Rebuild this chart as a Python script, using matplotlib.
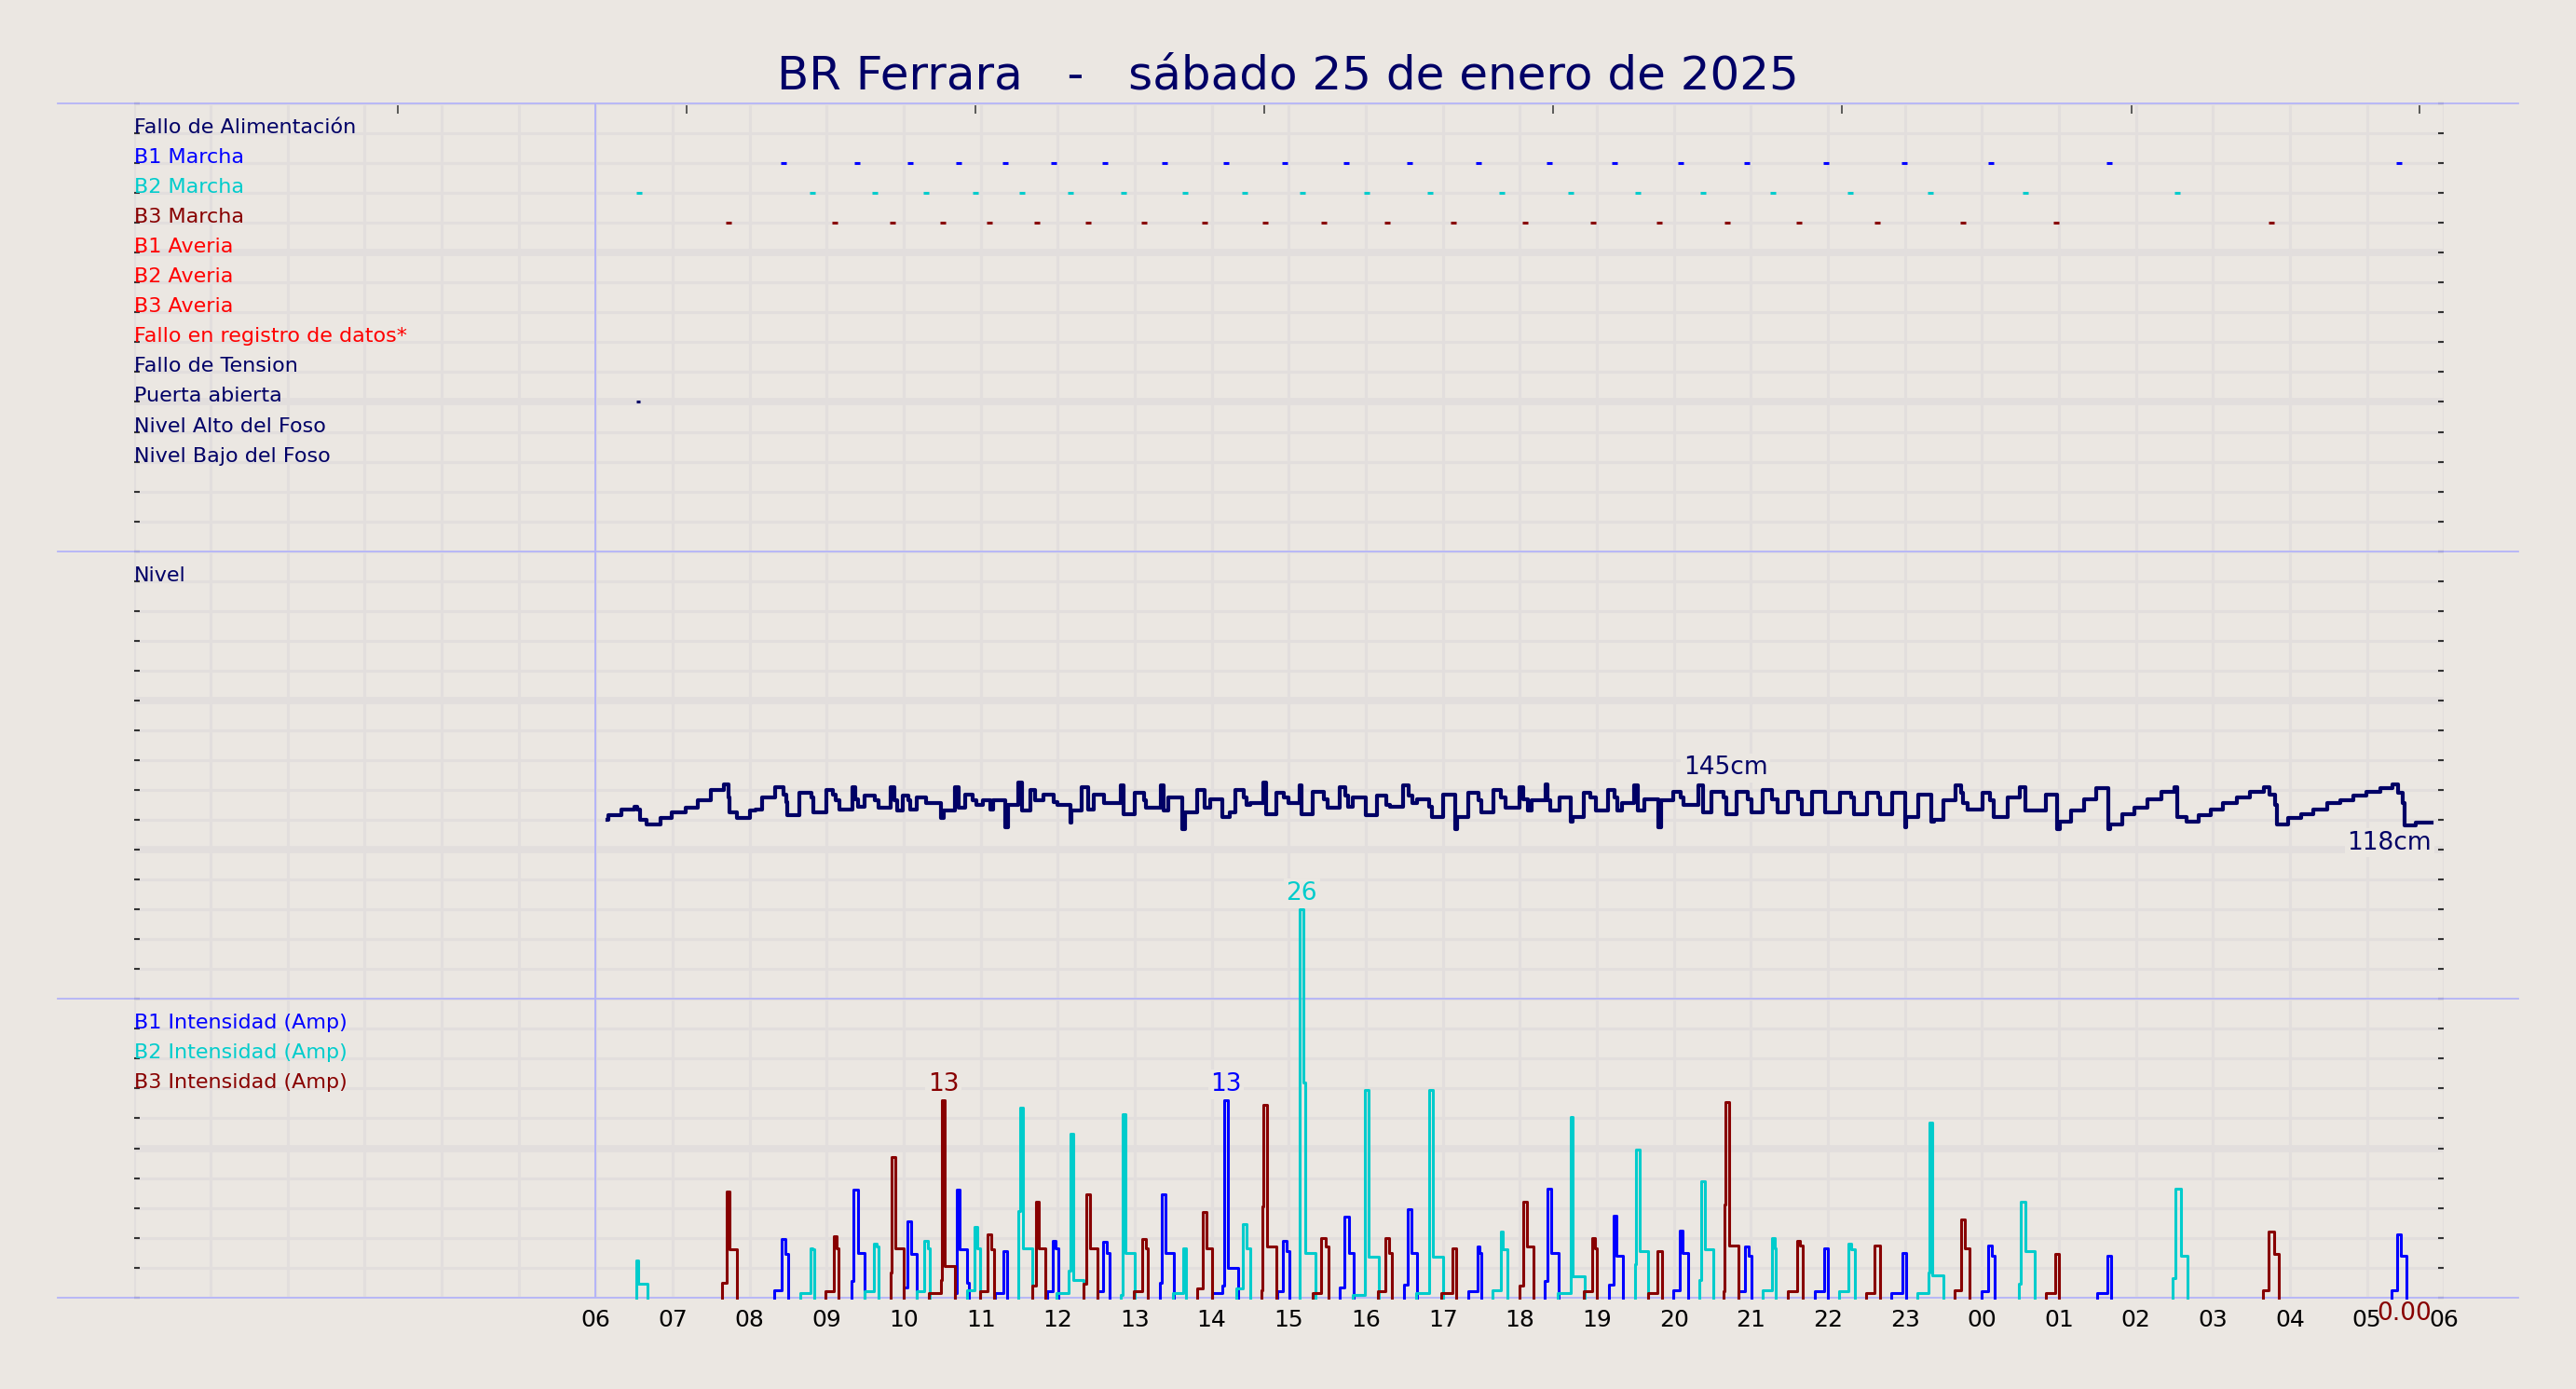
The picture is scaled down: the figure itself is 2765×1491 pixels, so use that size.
import matplotlib
matplotlib.use("Agg")
import matplotlib.pyplot as plt
from matplotlib.ticker import FixedLocator

# colores
BG = "#ebe7e2"
GRID = "#e2dedd"
SEP = "#b4b4f8"
NAVY = "#000066"
C_B1 = "#0000ff"
C_B2 = "#00cccc"
C_B3 = "#880000"
RED = "#ff0000"

titulo = "BR Ferrara   -   sábado 25 de enero de 2025"

# eje x en horas desde las 00:00 del dia
horas = list(range(31))
horas_txt = ["", "", "", "", "", "", "06", "07", "08", "09", "10", "11", "12",
             "13", "14", "15", "16", "17", "18", "19", "20", "21", "22", "23",
             "00", "01", "02", "03", "04", "05", "06"]
marcas_sup = [3.43, 7.18, 10.93, 14.68, 18.43, 22.18, 25.94, 29.68]

# filas de eventos (de arriba a abajo)
filas = ["Fallo de Alimentación", "B1 Marcha", "B2 Marcha", "B3 Marcha",
         "B1 Averia", "B2 Averia", "B3 Averia", "Fallo en registro de datos*",
         "Fallo de Tension", "Puerta abierta", "Nivel Alto del Foso",
         "Nivel Bajo del Foso"]
filas_color = [NAVY, C_B1, C_B2, C_B3, RED, RED, RED, RED,
               NAVY, NAVY, NAVY, NAVY]

marcha_b1 = [8.44, 9.39, 10.08, 10.71, 11.32, 11.95, 12.61, 13.39, 14.18, 14.95,
             15.75, 16.57, 17.46, 18.38, 19.23, 20.09, 20.95, 21.98, 22.99,
             24.12, 25.66, 29.42]
marcha_b2 = [6.56, 8.81, 9.63, 10.29, 10.93, 11.53, 12.17, 12.86, 13.65, 14.43,
             15.18, 16.01, 16.84, 17.77, 18.66, 19.53, 20.38, 21.29, 22.29,
             23.33, 24.57, 26.54]
marcha_b3 = [7.72, 9.11, 9.86, 10.51, 11.11, 11.73, 12.40, 13.12, 13.91, 14.69,
             15.46, 16.28, 17.14, 18.07, 18.95, 19.81, 20.70, 21.62, 22.64,
             23.75, 24.97, 27.76]
puerta = [6.55]

# nivel del foso (cm)
nivel_t = [6.15, 6.16, 6.33, 6.50, 6.54, 6.57, 6.66, 6.84, 6.99, 7.17, 7.33, 7.50,
           7.66, 7.72, 7.74, 7.83, 8.00, 8.07, 8.16, 8.33, 8.44, 8.47, 8.49, 8.65,
           8.80, 8.83, 8.99, 9.08, 9.12, 9.16, 9.33, 9.37, 9.41, 9.49, 9.63, 9.67,
           9.83, 9.88, 9.91, 9.99, 10.06, 10.09, 10.17, 10.29, 10.48, 10.52, 10.66,
           10.71, 10.80, 10.90, 10.94, 11.03, 11.13, 11.16, 11.32, 11.35, 11.49,
           11.53, 11.65, 11.71, 11.81, 11.95, 11.99, 12.16, 12.18, 12.31, 12.39,
           12.47, 12.60, 12.82, 12.85, 13.00, 13.12, 13.15, 13.34, 13.38, 13.44,
           13.62, 13.65, 13.81, 13.91, 13.98, 14.14, 14.23, 14.31, 14.41, 14.45,
           14.50, 14.67, 14.71, 14.84, 14.93, 15.00, 15.14, 15.17, 15.31, 15.45,
           15.50, 15.66, 15.73, 15.77, 15.83, 16.00, 16.15, 16.27, 16.32, 16.48,
           16.56, 16.61, 16.66, 16.82, 16.86, 17.00, 17.16, 17.18, 17.33, 17.47,
           17.50, 17.66, 17.75, 17.81, 18.00, 18.05, 18.10, 18.15, 18.33, 18.36,
           18.40, 18.52, 18.66, 18.69, 18.83, 18.91, 18.99, 19.15, 19.23, 19.27,
           19.33, 19.49, 19.53, 19.62, 19.80, 19.83, 19.99, 20.09, 20.12, 20.32,
           20.38, 20.49, 20.64, 20.68, 20.82, 20.96, 21.01, 21.15, 21.28, 21.35,
           21.48, 21.61, 21.66, 21.80, 21.97, 22.16, 22.30, 22.34, 22.51, 22.65,
           22.68, 22.84, 23.00, 23.02, 23.17, 23.35, 23.38, 23.50, 23.66, 23.73,
           23.76, 23.82, 24.01, 24.11, 24.16, 24.33, 24.49, 24.57, 24.83, 24.98,
           25.01, 25.16, 25.33, 25.49, 25.64, 25.67, 25.82, 25.98, 26.15, 26.33,
           26.50, 26.54, 26.66, 26.82, 26.97, 27.13, 27.31, 27.48, 27.66, 27.73,
           27.81, 27.83, 27.98, 28.15, 28.31, 28.48, 28.65, 28.82, 28.99, 29.17,
           29.33, 29.41, 29.46, 29.49, 29.64, 29.84]
nivel_cm = [120, 123, 127, 129, 127, 120, 117, 121, 125, 128, 133, 140,
            144, 135, 125, 121, 126, 127, 135, 142, 137, 132, 123, 138,
            135, 125, 140, 137, 133, 127, 142, 134, 129, 136, 133, 128,
            142, 133, 126, 136, 133, 127, 135, 131, 121, 126, 142,
            128, 137, 133, 130, 133, 127, 133, 115, 130, 145,
            126, 140, 133, 137, 132, 130, 118, 126, 142, 127,
            137, 131, 143, 124, 138, 133, 128, 143, 126, 135,
            114, 125, 140, 128, 134, 122, 125, 140, 135, 130,
            131, 145, 124, 138, 135, 131, 143, 124, 139, 134,
            128, 142, 136, 129, 135, 123, 136, 130, 129, 143,
            136, 131, 134, 129, 122, 137, 114, 122, 138, 133,
            125, 140, 135, 128, 142, 134, 126, 133, 144, 133,
            126, 135, 119, 122, 138, 135, 126, 140, 135, 126,
            131, 143, 126, 134, 115, 133, 139, 135, 130, 143,
            125, 139, 135, 124, 139, 134, 125, 140, 134, 125,
            139, 134, 124, 139, 125, 138, 135, 124, 138, 135,
            124, 138, 115, 122, 137, 119, 120, 133, 143, 138,
            131, 127, 138, 133, 122, 135, 142, 126, 137, 114,
            119, 126, 134, 141, 114, 117, 124, 128, 134, 139,
            142, 122, 119, 123, 127, 131, 135, 139, 142, 137,
            130, 117, 121, 124, 127, 131, 133, 136, 139, 141,
            144, 138, 131, 116, 118, 118]

# intensidades (Amp): cada arranque es una lista de (hora, amperios)
b1_arranques = [
    [(8.321, 0.5), (8.410, 3.9), (8.463, 2.9), (8.499, 0)],
    [(9.323, 1.1), (9.349, 7.2), (9.407, 3.0), (9.496, 0)],
    [(10.005, 0.7), (10.047, 5.1), (10.100, 2.9), (10.168, 0)],
    [(10.661, 0.3), (10.693, 7.2), (10.729, 3.2), (10.824, 1.0), (10.845, 0)],
    [(11.186, 0.3), (11.296, 3.1), (11.343, 0)],
    [(11.857, 0.4), (11.936, 3.8), (11.973, 3.3), (12.004, 0)],
    [(12.513, 0.4), (12.592, 3.7), (12.634, 3.0), (12.671, 0)],
    [(13.326, 1.0), (13.353, 6.9), (13.405, 3.0), (13.510, 0)],
    [(14.009, 0.3), (14.140, 0.8), (14.166, 13.2), (14.205, 2.0), (14.345, 0)],
    [(14.848, 0.4), (14.922, 3.8), (14.974, 3.1), (15.006, 0)],
    [(15.662, 0.7), (15.725, 5.4), (15.777, 3.0), (15.840, 0)],
    [(16.496, 0.85), (16.548, 5.9), (16.590, 3.0), (16.669, 0)],
    [(17.330, 0.4), (17.446, 3.4), (17.482, 3.0), (17.498, 0)],
    [(18.322, 1.1), (18.359, 7.3), (18.411, 3.0), (18.505, 0)],
    [(19.161, 0.85), (19.224, 5.5), (19.256, 2.8), (19.345, 0)],
    [(19.990, 0.5), (20.080, 4.5), (20.116, 3.0), (20.185, 0)],
    [(20.840, 0.4), (20.930, 3.4), (20.972, 2.8), (21.014, 0)],
    [(21.827, 0.4), (21.953, 3.3), (22.005, 0)],
    [(22.819, 0.3), (22.965, 3.0), (23.013, 0)],
    [(23.999, 0.4), (24.088, 3.5), (24.130, 2.8), (24.172, 0)],
    [(25.495, 0.3), (25.626, 2.8), (25.678, 0)],
    [(29.325, 0.5), (29.388, 4.2), (29.446, 2.8), (29.519, 0)],
]
b2_arranques = [
    [(6.532, 2.5), (6.550, 0.9), (6.673, 0)],
    [(8.657, 0.3), (8.788, 3.3), (8.814, 3.2), (8.840, 0)],
    [(9.496, 0.4), (9.617, 3.6), (9.643, 3.4), (9.669, 0)],
    [(10.163, 0.4), (10.268, 3.8), (10.310, 3.3), (10.336, 0)],
    [(10.819, 0.5), (10.913, 4.7), (10.950, 3.3), (10.992, 0)],
    [(11.490, 5.8), (11.516, 12.7), (11.543, 3.3), (11.674, 0)],
    [(11.989, 0.3), (12.146, 1.8), (12.162, 11.0), (12.199, 1.2), (12.330, 0)],
    [(12.818, 0.2), (12.839, 12.3), (12.881, 3.0), (13.001, 0)],
    [(13.494, 0.3), (13.625, 3.3), (13.668, 0)],
    [(14.324, 0.6), (14.402, 4.9), (14.455, 3.3), (14.502, 0)],
    [(15.147, 26.0), (15.189, 14.4), (15.210, 3.0), (15.341, 0)],
    [(15.830, 0.2), (15.987, 13.9), (16.039, 2.7), (16.171, 0)],
    [(16.653, 0.3), (16.826, 13.9), (16.868, 2.7), (16.999, 0)],
    [(17.650, 0.5), (17.750, 4.4), (17.781, 3.2), (17.839, 0)],
    [(18.490, 0.3), (18.663, 12.1), (18.689, 1.4), (18.846, 0)],
    [(19.492, 2.2), (19.513, 9.9), (19.555, 3.1), (19.670, 0)],
    [(20.331, 1.2), (20.358, 7.8), (20.405, 3.2), (20.510, 0)],
    [(21.155, 0.5), (21.276, 3.95), (21.313, 3.3), (21.328, 0)],
    [(22.152, 0.4), (22.268, 3.6), (22.304, 3.2), (22.346, 0)],
    [(23.160, 0.3), (23.307, 1.7), (23.322, 11.7), (23.359, 1.5), (23.501, 0)],
    [(24.487, 0.9), (24.508, 6.4), (24.561, 3.1), (24.681, 0)],
    [(26.481, 1.3), (26.518, 7.3), (26.581, 2.8), (26.675, 0)],
]
b3_arranques = [
    [(7.644, 1.0), (7.697, 7.1), (7.739, 3.2), (7.828, 0)],
    [(8.987, 0.4), (9.092, 4.1), (9.129, 3.3), (9.155, 0)],
    [(9.827, 1.7), (9.848, 9.4), (9.890, 3.3), (9.995, 0)],
    [(10.320, 0.3), (10.483, 1.2), (10.499, 13.2), (10.530, 2.1), (10.661, 0)],
    [(10.992, 0.4), (11.086, 4.2), (11.139, 3.2), (11.175, 0)],
    [(11.663, 0.8), (11.716, 6.4), (11.752, 3.3), (11.842, 0)],
    [(12.330, 0.9), (12.372, 6.9), (12.419, 3.3), (12.513, 0)],
    [(12.986, 0.4), (13.101, 3.9), (13.143, 3.3), (13.169, 0)],
    [(13.814, 0.6), (13.877, 5.7), (13.930, 3.3), (14.009, 0)],
    [(14.640, 0.5), (14.659, 6.1), (14.675, 12.9), (14.717, 3.4), (14.843, 0)],
    [(15.315, 0.3), (15.425, 3.95), (15.478, 3.4), (15.515, 0)],
    [(16.155, 0.4), (16.260, 4.0), (16.302, 3.0), (16.344, 0)],
    [(16.984, 0.3), (17.131, 3.3), (17.178, 0)],
    [(17.996, 0.8), (18.049, 6.4), (18.096, 3.4), (18.175, 0)],
    [(18.831, 0.4), (18.936, 3.95), (18.978, 3.3), (19.004, 0)],
    [(19.660, 0.3), (19.791, 3.1), (19.844, 0)],
    [(20.640, 0.4), (20.657, 6.2), (20.673, 13.1), (20.720, 3.5), (20.840, 0)],
    [(21.486, 0.4), (21.601, 3.8), (21.643, 3.45), (21.680, 0)],
    [(22.493, 0.3), (22.609, 3.5), (22.677, 0)],
    [(23.648, 0.5), (23.737, 5.2), (23.779, 3.3), (23.842, 0)],
    [(24.828, 0.3), (24.959, 2.9), (25.007, 0)],
    [(27.656, 0.5), (27.725, 4.4), (27.793, 2.9), (27.856, 0)],
]
intensidades = [("B1 Intensidad (Amp)", b1_arranques, C_B1),
                ("B2 Intensidad (Amp)", b2_arranques, C_B2),
                ("B3 Intensidad (Amp)", b3_arranques, C_B3)]

# figura
fig = plt.figure(figsize=(27.65, 14.91), dpi=100, facecolor=BG)
rect = [0.0519, 0.0659, 0.8968, 0.8596]

ax = fig.add_axes(rect, facecolor=BG)
ax.set_xlim(0, 30)
ax.set_ylim(0, 40)
for s in ax.spines.values():
    s.set_visible(False)

ax.set_xticks(horas)
ax.set_xticklabels(horas_txt)
ax.set_yticks(range(41))
ax.set_yticklabels([])
ax.xaxis.set_minor_locator(FixedLocator(marcas_sup))
ax.grid(True, color=GRID, lw=2.2, zorder=0)
for y in [5, 15, 20, 30, 35]:
    ax.axhline(y, color=GRID, lw=5.5, zorder=0.5)
ax.tick_params(axis="x", which="major", length=0, pad=8.5, labelsize=18, colors="black")
ax.tick_params(axis="x", which="minor", bottom=False, top=True, direction="in",
               length=8, width=1.1, color="#333333")
ax.tick_params(axis="y", left=True, right=True, direction="in",
               length=4, width=1.5, color="#333333")
ax.set_axisbelow(True)

# separadores de paneles
for y in [0, 10, 25, 40]:
    ax.plot([-0.033, 1.0323], [y, y], transform=ax.get_yaxis_transform(),
            color=SEP, lw=1.3, clip_on=False, zorder=3)
ax.axvline(6, color=SEP, lw=1.4, zorder=1)

# etiquetas de filas
for i, (txt, col) in enumerate(zip(filas, filas_color)):
    ax.text(0, 39 - i, txt, color=col, fontsize=16, ha="left", va="baseline")
ax.text(0, 24, "Nivel", color=NAVY, fontsize=16, ha="left", va="baseline")
for i, (txt, _, col) in enumerate(intensidades):
    ax.text(0, 9 - i, txt, color=col, fontsize=16, ha="left", va="baseline")

# eventos
for tiempos, fila, col in [(marcha_b1, 38, C_B1), (marcha_b2, 37, C_B2),
                           (marcha_b3, 36, C_B3)]:
    ax.plot(tiempos, [fila] * len(tiempos), ls="none", marker="_", ms=4,
            mew=2.2, color=col, zorder=4)
ax.plot(puerta, [30] * len(puerta), ls="none", marker="_", ms=2.5, mew=2.2,
        color=NAVY, zorder=4)

# nivel
axn = fig.add_axes(rect)
axn.set_xlim(0, 30)
axn.set_ylim(-200, 600)
axn.axis("off")
axn.plot(nivel_t, nivel_cm, drawstyle="steps-post", color=NAVY, lw=3)
caja = dict(boxstyle="square,pad=0.1", fc=BG, ec="none")
axn.annotate("145cm", (20.67, max(nivel_cm)), xytext=(0, 2), textcoords="offset points",
             ha="center", va="bottom", fontsize=19, color=NAVY, bbox=caja)
axn.annotate("%dcm" % nivel_cm[-1], (nivel_t[-1], nivel_cm[-1]), xytext=(0, -6),
             textcoords="offset points", ha="right", va="top", fontsize=19,
             color=NAVY, bbox=caja)

# intensidades
axa = fig.add_axes(rect)
axa.set_xlim(0, 30)
axa.set_ylim(0, 80)
axa.axis("off")
for _, arranques, col in intensidades:
    pico = (0, 0, 0)
    for arr in arranques:
        ts = [arr[0][0]] + [p[0] for p in arr]
        amps = [0] + [p[1] for p in arr]
        axa.plot(ts, amps, drawstyle="steps-post", color=col, lw=2.2, clip_on=False)
        for k in range(len(arr) - 1):
            if arr[k][1] > pico[0]:
                pico = (arr[k][1], arr[k][0], arr[k + 1][0])
    axa.annotate("%.0f" % pico[0], ((pico[1] + pico[2]) / 2, pico[0]), xytext=(0, 3),
                 textcoords="offset points", ha="center", va="bottom",
                 fontsize=19, color=col, bbox=caja)
axa.text(29.48, -1.1, "0.00", color=C_B3, fontsize=19, ha="center", va="center",
         clip_on=False)

fig.text(0.5, 0.9358, titulo, ha="center", va="baseline", fontsize=36, color=NAVY)

fig.savefig("out.png", dpi=100, facecolor=BG)
